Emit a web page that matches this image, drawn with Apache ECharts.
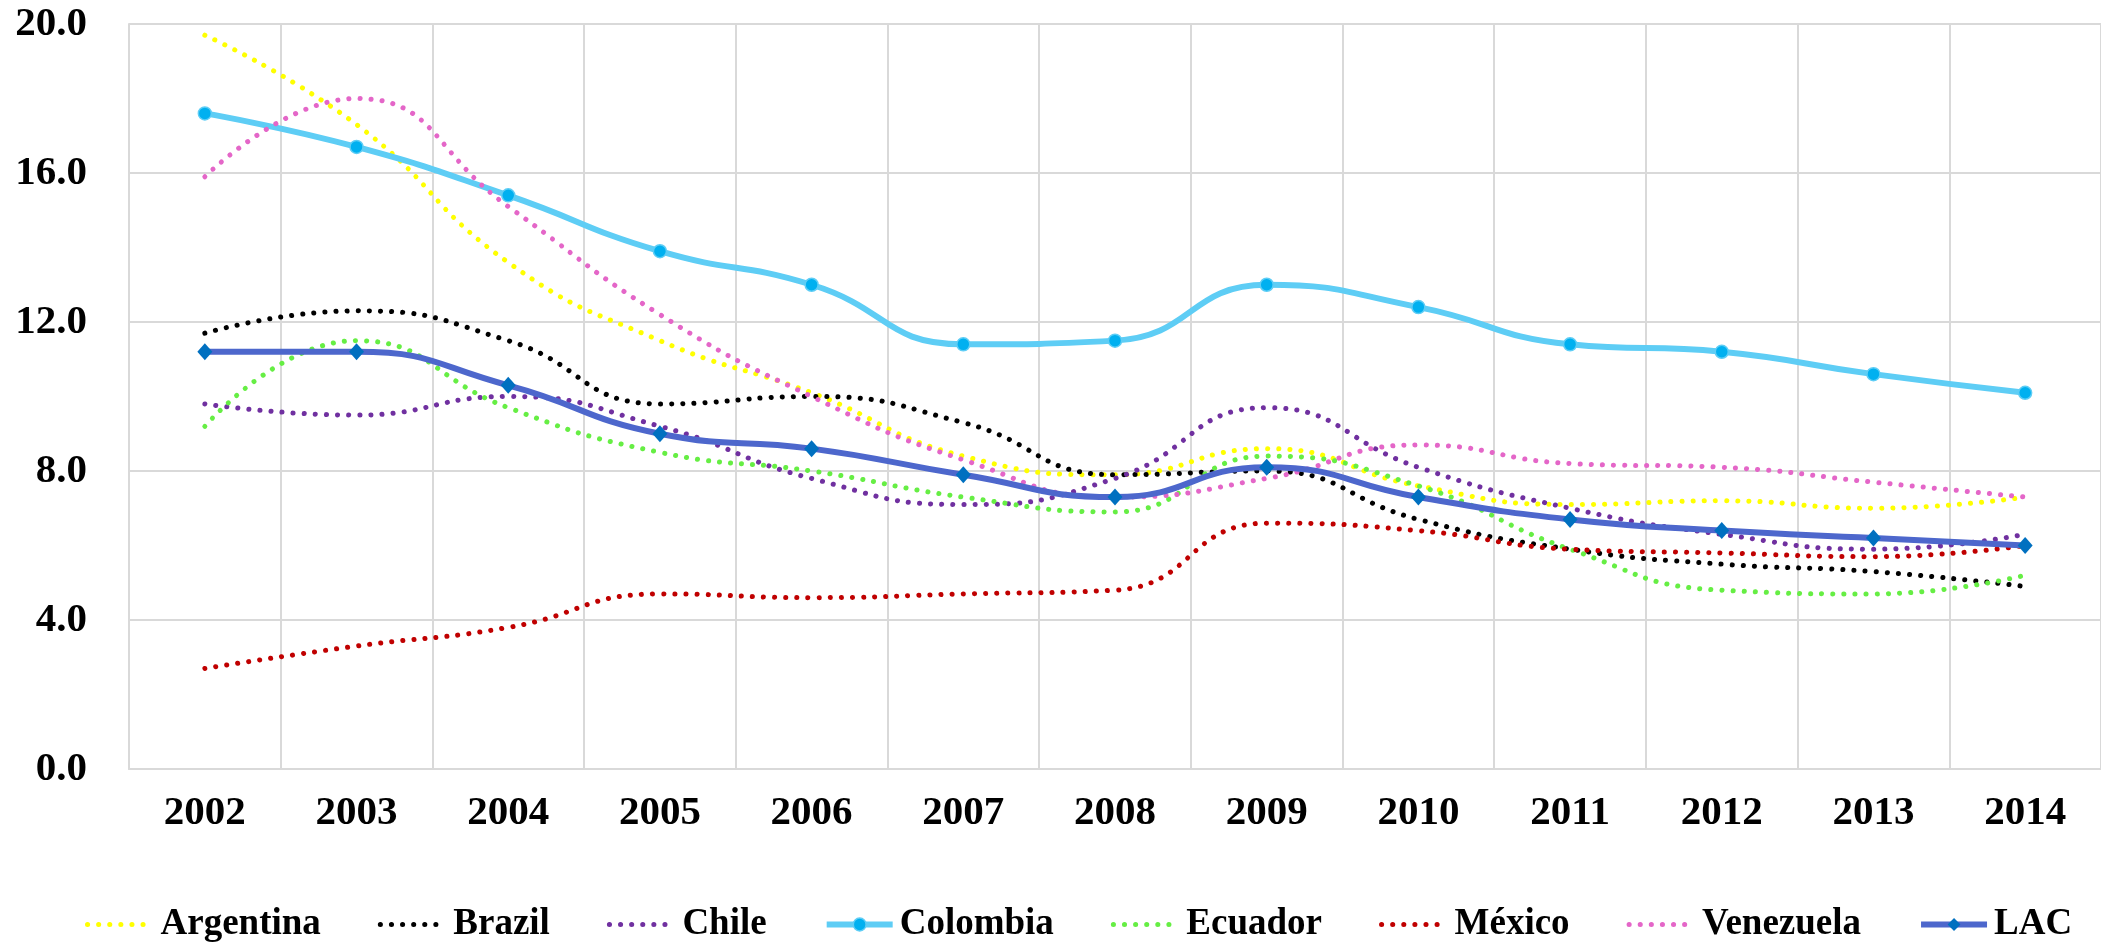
<!DOCTYPE html>
<html>
<head>
<meta charset="utf-8">
<script src="https://cdn.jsdelivr.net/npm/echarts@6/dist/echarts.min.js"></script>
<style>
  html, body { margin: 0; padding: 0; background: #ffffff; }
  #chart { width: 2101px; height: 942px; }
</style>
</head>
<body>
<div id="chart"></div>
<script>
// Years on the horizontal axis
const years = ['2002', '2003', '2004', '2005', '2006', '2007', '2008', '2009', '2010', '2011', '2012', '2013', '2014'];

// Values per country (percent)
const argentina = [19.7, 17.3, 13.6, 11.5, 10.1, 8.4, 7.9, 8.6, 7.6, 7.1, 7.2, 7.0, 7.3];
const brazil    = [11.7, 12.3, 11.5, 9.8, 10.0, 9.3, 7.9, 8.0, 6.7, 5.9, 5.5, 5.3, 4.9];
const chile     = [9.8, 9.5, 10.0, 9.2, 7.8, 7.1, 7.8, 9.7, 8.1, 7.0, 6.3, 5.9, 6.3];
const colombia  = [17.6, 16.7, 15.4, 13.9, 13.0, 11.4, 11.5, 13.0, 12.4, 11.4, 11.2, 10.6, 10.1];
const ecuador   = [9.2, 11.5, 9.7, 8.5, 8.0, 7.3, 6.9, 8.4, 7.6, 5.9, 4.8, 4.7, 5.2];
const mexico    = [2.7, 3.3, 3.8, 4.7, 4.6, 4.7, 4.8, 6.6, 6.4, 5.9, 5.8, 5.7, 6.0];
const venezuela = [15.9, 18.0, 15.1, 12.2, 10.0, 8.3, 7.3, 7.8, 8.7, 8.2, 8.1, 7.7, 7.3];
const lac       = [11.2, 11.2, 10.3, 9.0, 8.6, 7.9, 7.3, 8.1, 7.3, 6.7, 6.4, 6.2, 6.0];

// Value axis ticks
const yTicks = [0, 4, 8, 12, 16, 20];

const FONT = '"Liberation Serif", "Times New Roman", serif';
const SMOOTH = 0.5;
const DOT = [0.1, 11];

const COLORS = {
  Argentina: '#ffff00',
  Brazil: '#000000',
  Chile: '#7030a0',
  Colombia: '#5ecdf5',
  Ecuador: '#66ee44',
  'México': '#c00000',
  Venezuela: '#e466c8',
  LAC: '#4d67cc'
};

function dotted(name, data) {
  return {
    name: name,
    type: 'line',
    data: data,
    smooth: SMOOTH,
    symbol: 'none',
    showSymbol: false,
    lineStyle: { color: COLORS[name], width: 5, type: DOT, cap: 'round' },
    itemStyle: { color: COLORS[name] },
    emphasis: { disabled: true }
  };
}

// Legend entries: dotted strokes for countries, solid strokes with markers for the two highlighted series
function dottedLegend(name) {
  return {
    name: name,
    itemStyle: { opacity: 0 },
    lineStyle: { color: COLORS[name], width: 5, type: DOT, cap: 'round', opacity: 1 }
  };
}

const chart = echarts.init(document.getElementById('chart'), null, { renderer: 'canvas' });

chart.setOption({
  animation: false,
  backgroundColor: '#ffffff',
  textStyle: { fontFamily: FONT },
  grid: { left: 129, top: 24, width: 1979, height: 745, containLabel: false },
  legend: {
    left: 80,
    top: 901,
    itemWidth: 66,
    itemHeight: 16,
    itemGap: 57,
    textStyle: { fontFamily: FONT, fontWeight: 'bold', fontSize: 37, color: '#000000', padding: [0, 0, 0, 2] },
    data: [
      dottedLegend('Argentina'),
      dottedLegend('Brazil'),
      dottedLegend('Chile'),
      {
        name: 'Colombia',
        itemStyle: { color: '#00b0f0', borderColor: '#5ecdf5', borderWidth: 1.5 },
        lineStyle: { color: COLORS.Colombia, width: 6, type: 'solid' }
      },
      dottedLegend('Ecuador'),
      dottedLegend('México'),
      dottedLegend('Venezuela'),
      {
        name: 'LAC',
        itemStyle: { color: '#0070c0', borderWidth: 0 },
        lineStyle: { color: COLORS.LAC, width: 6, type: 'solid' }
      }
    ]
  },
  xAxis: {
    type: 'category',
    data: years,
    boundaryGap: true,
    axisLine: { show: true, lineStyle: { color: '#d9d9d9', width: 2 } },
    axisTick: { show: false },
    splitLine: { show: true, lineStyle: { color: '#d9d9d9', width: 2 } },
    axisLabel: {
      margin: 24,
      fontFamily: FONT,
      fontWeight: 'bold',
      fontSize: 41,
      color: '#000000'
    }
  },
  yAxis: {
    type: 'value',
    min: yTicks[0],
    max: yTicks[yTicks.length - 1],
    interval: yTicks[1] - yTicks[0],
    axisLine: { show: true, lineStyle: { color: '#d9d9d9', width: 2 } },
    axisTick: { show: false },
    splitLine: { show: true, lineStyle: { color: '#d9d9d9', width: 2 } },
    axisLabel: {
      margin: 42,
      fontFamily: FONT,
      fontWeight: 'bold',
      fontSize: 41,
      color: '#000000',
      formatter: v => v.toFixed(1)
    }
  },
  series: [
    dotted('Argentina', argentina),
    dotted('Brazil', brazil),
    dotted('Chile', chile),
    {
      name: 'Colombia',
      type: 'line',
      data: colombia,
      smooth: SMOOTH,
      symbol: 'circle',
      symbolSize: 13,
      lineStyle: { color: COLORS.Colombia, width: 6 },
      itemStyle: { color: '#00b0f0', borderColor: '#5ecdf5', borderWidth: 1.5 },
      emphasis: { disabled: true },
      z: 3
    },
    dotted('Ecuador', ecuador),
    dotted('México', mexico),
    dotted('Venezuela', venezuela),
    {
      name: 'LAC',
      type: 'line',
      data: lac,
      smooth: SMOOTH,
      symbol: 'diamond',
      symbolSize: [15, 17],
      lineStyle: { color: COLORS.LAC, width: 6 },
      itemStyle: { color: '#0070c0', borderWidth: 0 },
      emphasis: { disabled: true },
      z: 4
    }
  ]
});
</script>
</body>
</html>
